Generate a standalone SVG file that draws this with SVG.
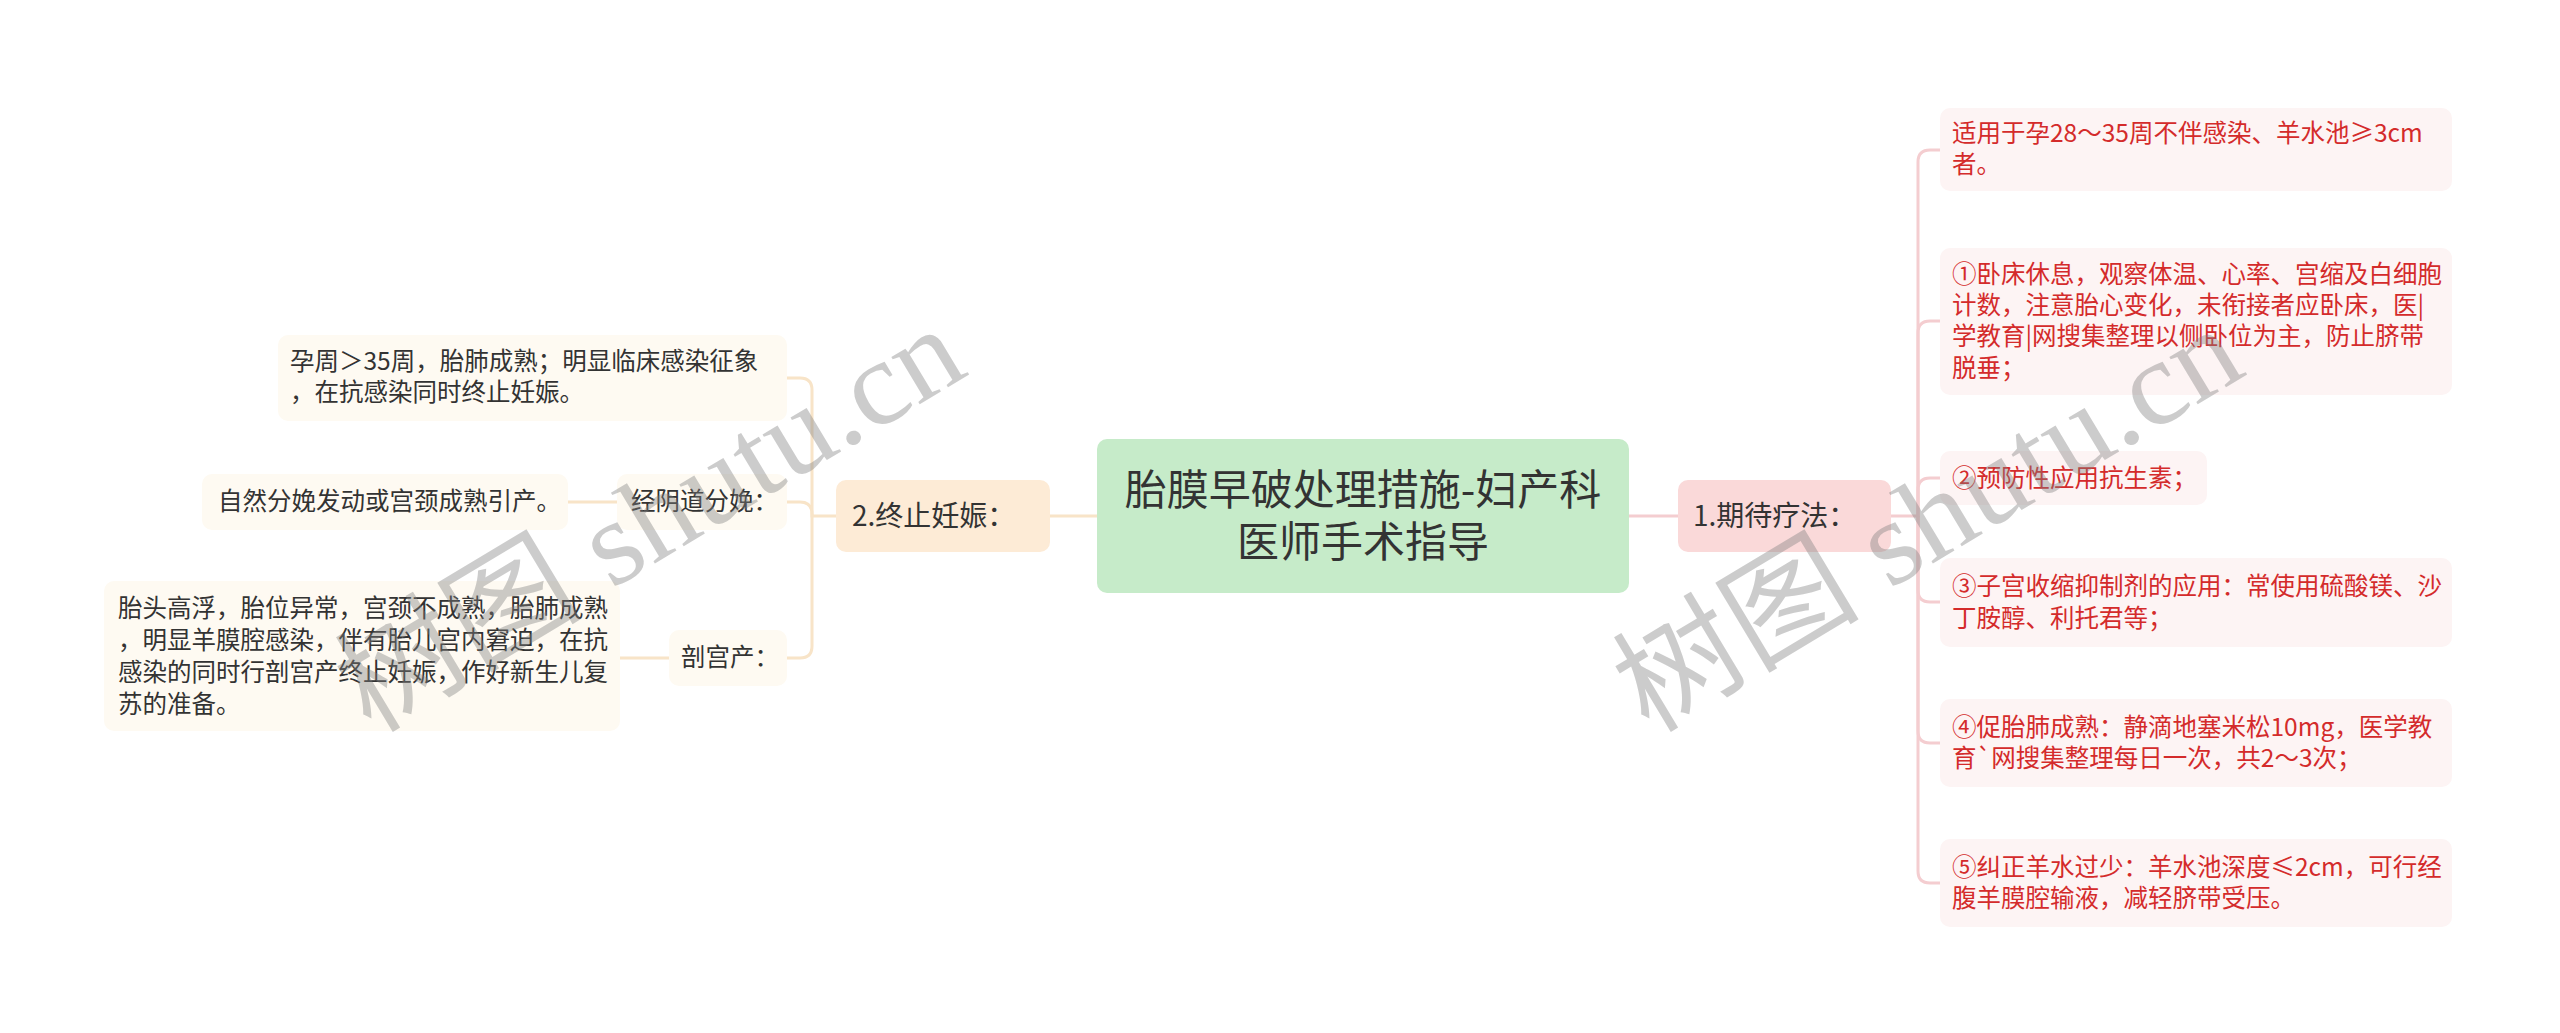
<svg xmlns="http://www.w3.org/2000/svg" width="2560" height="1033" viewBox="0 0 2560 1033">
<style>
text{font-family:"Noto Sans CJK SC","Liberation Sans",sans-serif;}
.c{fill:#c6ebc9;}
.b1{fill:#fad9d9;}
.b2{fill:#fdebd6;}
.r{fill:#fdf4f4;}
.l{fill:#fefaf2;}
.tc{font-size:42px;fill:#333;text-anchor:middle;}
.tb{font-size:28px;fill:#333;}
.tr{font-size:24.5px;fill:#d42b2b;}
.tl{font-size:24.5px;fill:#333;}
.cr{fill:none;stroke:#f4cdd0;stroke-width:3;}
.cl{fill:none;stroke:#f8e4c8;stroke-width:3;}
.wm{font-family:"Liberation Serif","Noto Sans CJK SC",serif;font-size:120px;fill:#808080;fill-opacity:0.4;}
</style>
<rect width="2560" height="1033" fill="#fff"/>
<g id="connectors">
<path class="cl" d="M1050 516H1097"/>
<path class="cr" d="M1629 516H1678"/>
<path class="cr" d="M1891 516H1918V162Q1918 150 1930 150H1940"/>
<path class="cr" d="M1918 516V333Q1918 321 1930 321H1940"/>
<path class="cr" d="M1918 516V490Q1918 478 1930 478H1940"/>
<path class="cr" d="M1918 516V590Q1918 602 1930 602H1940"/>
<path class="cr" d="M1918 516V731Q1918 743 1930 743H1940"/>
<path class="cr" d="M1918 516V871Q1918 883 1930 883H1940"/>
<path class="cl" d="M836 516H812V390Q812 378 800 378H787"/>
<path class="cl" d="M812 516V514Q812 502 800 502H787"/>
<path class="cl" d="M812 516V646Q812 658 800 658H787"/>
<path class="cl" d="M568 502H617"/>
<path class="cl" d="M620 658H669"/>
</g>
<g id="center">
<rect class="c" x="1097" y="439" width="532" height="154" rx="10"/>
<text class="tc" x="1363" y="505">胎膜早破处理措施-妇产科</text>
<text class="tc" x="1363" y="557">医师手术指导</text>
</g>
<g id="branch1">
<rect class="b1" x="1678" y="480" width="213" height="72" rx="10"/>
<text class="tb" x="1693" y="526">1.期待疗法：</text>
</g>
<g id="r1">
<rect class="r" x="1940" y="108" width="512" height="83" rx="10"/>
<text class="tr" x="1952" y="142">适用于孕28～35周不伴感染、羊水池≥3cm</text>
<text class="tr" x="1952" y="173">者。</text>
</g>
<g id="r2">
<rect class="r" x="1940" y="248" width="512" height="147" rx="10"/>
<text class="tr" x="1952" y="283">①卧床休息，观察体温、心率、宫缩及白细胞</text>
<text class="tr" x="1952" y="314">计数，注意胎心变化，未衔接者应卧床，医|</text>
<text class="tr" x="1952" y="345">学教育|网搜集整理以侧卧位为主，防止脐带</text>
<text class="tr" x="1952" y="377">脱垂；</text>
</g>
<g id="r3">
<rect class="r" x="1940" y="451" width="267" height="54" rx="10"/>
<text class="tr" x="1952" y="487">②预防性应用抗生素；</text>
</g>
<g id="r4">
<rect class="r" x="1940" y="558" width="512" height="89" rx="10"/>
<text class="tr" x="1952" y="595">③子宫收缩抑制剂的应用：常使用硫酸镁、沙</text>
<text class="tr" x="1952" y="627">丁胺醇、利托君等；</text>
</g>
<g id="r5">
<rect class="r" x="1940" y="699" width="512" height="88" rx="10"/>
<text class="tr" x="1952" y="736">④促胎肺成熟：静滴地塞米松10mg，医学教</text>
<text class="tr" x="1952" y="767">育`网搜集整理每日一次，共2～3次；</text>
</g>
<g id="r6">
<rect class="r" x="1940" y="839" width="512" height="88" rx="10"/>
<text class="tr" x="1952" y="876">⑤纠正羊水过少：羊水池深度≤2cm，可行经</text>
<text class="tr" x="1952" y="907">腹羊膜腔输液，减轻脐带受压。</text>
</g>
<g id="branch2">
<rect class="b2" x="836" y="480" width="214" height="72" rx="10"/>
<text class="tb" x="852" y="526">2.终止妊娠：</text>
</g>
<g id="l1">
<rect class="l" x="278" y="335" width="509" height="86" rx="10"/>
<text class="tl" x="290" y="370">孕周＞35周，胎肺成熟；明显临床感染征象</text>
<text class="tl" x="290" y="401">，在抗感染同时终止妊娠。</text>
</g>
<g id="l2">
<rect class="l" x="617" y="474" width="170" height="56" rx="10"/>
<text class="tl" x="631" y="510">经阴道分娩：</text>
</g>
<g id="l2a">
<rect class="l" x="202" y="474" width="366" height="56" rx="10"/>
<text class="tl" x="218" y="510">自然分娩发动或宫颈成熟引产。</text>
</g>
<g id="l3">
<rect class="l" x="669" y="630" width="118" height="56" rx="10"/>
<text class="tl" x="681" y="666">剖宫产：</text>
</g>
<g id="l3a">
<rect class="l" x="104" y="581" width="516" height="150" rx="10"/>
<text class="tl" x="118" y="617">胎头高浮，胎位异常，宫颈不成熟，胎肺成熟</text>
<text class="tl" x="118" y="649">，明显羊膜腔感染，伴有胎儿宫内窘迫，在抗</text>
<text class="tl" x="118" y="681">感染的同时行剖宫产终止妊娠，作好新生儿复</text>
<text class="tl" x="118" y="713">苏的准备。</text>
</g>
<g id="watermarks">
<text class="wm" x="649" y="560" text-anchor="middle" textLength="700" lengthAdjust="spacingAndGlyphs" transform="rotate(-31 649 518)">树图 shutu.cn</text>
<text class="wm" x="1927" y="560" text-anchor="middle" textLength="700" lengthAdjust="spacingAndGlyphs" transform="rotate(-31 1927 518)">树图 shutu.cn</text>
</g>
</svg>
